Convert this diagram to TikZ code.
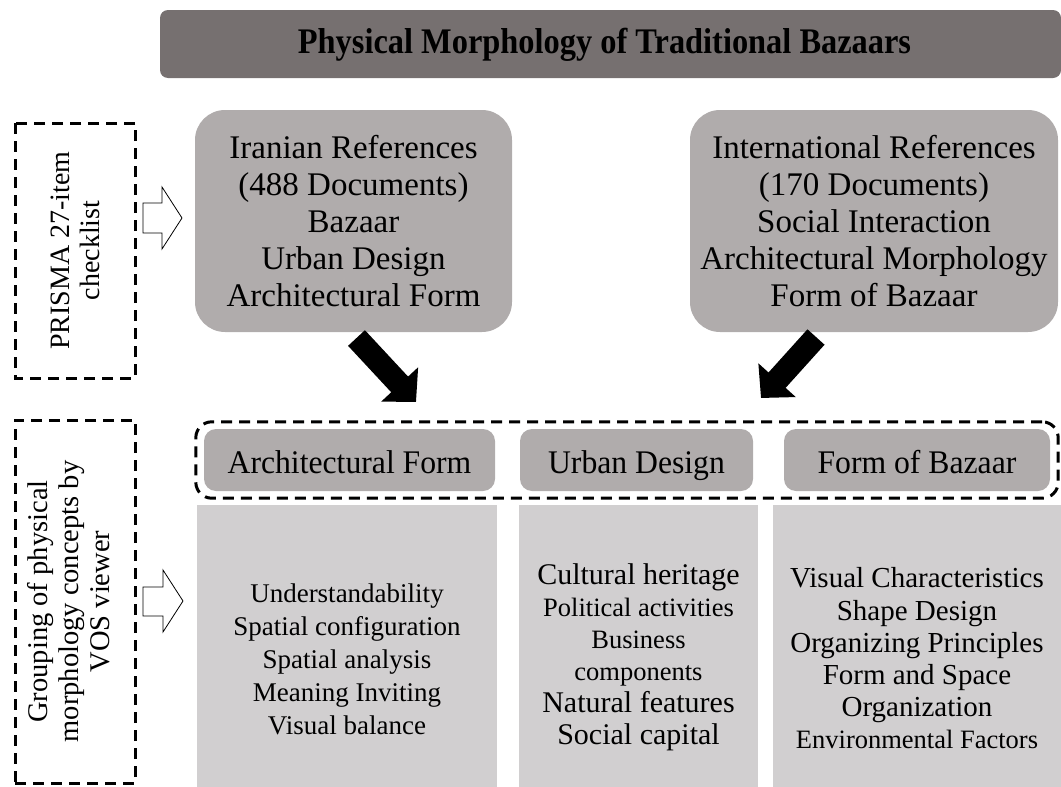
\documentclass[tikz,border=0pt]{standalone}
\usepackage{fontspec}
\setmainfont{Liberation Serif}
\newfontfamily\condfont[FakeStretch=0.96]{Liberation Serif}
\newfontfamily\titlefont[FakeStretch=0.9]{Liberation Serif}
\usetikzlibrary{arrows.meta,fit}
\definecolor{titlegray}{RGB}{118,112,112}
\definecolor{midgray}{RGB}{176,172,172}
\definecolor{listgray}{RGB}{209,207,208}
\begin{document}
\begin{tikzpicture}[x=1pt,y=-1pt,
  dashbox/.style={draw=black, line width=3pt, dash pattern=on 11pt off 7pt},
  refbox/.style={fill=midgray, rounded corners=30pt, inner sep=0pt, align=center, font=\fontsize{33}{37}\selectfont},
  headbox/.style={fill=midgray, rounded corners=12pt, inner sep=0pt, minimum height=62pt, text height=30pt, text depth=3pt, font=\condfont\fontsize{33}{36}\selectfont},
  listbox/.style={fill=listgray, inner sep=0pt, minimum height=282pt},
  listtext/.style={inner sep=0pt, align=center},
  sidetext/.style={dashbox, rotate=90, inner sep=0pt, align=center},
  hollow/.style={draw=black, line width=0.8pt, fill=white, line join=miter},
  bigarrow/.style={draw=black, line width=23pt, -{Triangle[length=24pt,width=49pt]}},
]
\useasboundingbox (0,0) rectangle (1061,787);

% title bar
\node[fill=titlegray, rounded corners=8pt, minimum width=901pt, minimum height=68pt, inner sep=0pt] (title) at (610.5,44) {};
\node[font=\titlefont\bfseries\fontsize{36}{40}\selectfont, inner sep=0pt] (titletext) at ([xshift=-6pt,yshift=-1pt]title.center) {Physical Morphology of Traditional Bazaars};

% left dashed boxes
\node[sidetext, minimum width=255pt, minimum height=120pt, font=\fontsize{28}{30}\selectfont] (prisma) at (75,250.5) {PRISMA 27-item\\checklist};
\node[dashbox, minimum width=120pt, minimum height=363pt] (vos) at (75,601.5) {};
\node[rotate=90, inner sep=0pt, align=center, font=\fontsize{28.5}{31}\selectfont] (vostext) at (69,601.5) {Grouping of physical\\morphology concepts by\\VOS viewer};

% reference boxes
\node[refbox, minimum width=317pt, minimum height=222pt] (iran) at (353.5,221) {Iranian References\\(488 Documents)\\Bazaar\\Urban Design\\Architectural Form};
\node[refbox, minimum width=368pt, minimum height=222pt] (intl) at (874,221) {International References\\(170 Documents)\\Social Interaction\\Architectural Morphology\\Form of Bazaar};

% header boxes
\node[headbox, minimum width=291pt] (h1) at (349.5,460) {Architectural Form};
\node[headbox, minimum width=233pt] (h2) at (636.5,460) {Urban Design};
\node[headbox, minimum width=266pt] (h3) at (917,460) {Form of Bazaar};
\node[dashbox, rounded corners=16pt, fit=(h1)(h3), inner xsep=8pt, inner ysep=7pt] (grp) {};

% list boxes
\node[listbox, minimum width=300pt] (l1) at (347,646) {};
\node[listbox, minimum width=239pt] (l2) at (638.5,646) {};
\node[listbox, minimum width=288pt] (l3) at (917,646) {};
\node[listtext, font=\fontsize{27}{33}\selectfont] (t1) at (347,659) {Understandability\\Spatial configuration\\Spatial analysis\\Meaning Inviting\\Visual balance};
\node[listtext, font=\fontsize{26.5}{32}\selectfont] (t2) at (638.5,657.5) {{\fontsize{30}{32}\selectfont Cultural heritage}\\
Political activities\\Business\\components\\
{\fontsize{30}{32}\selectfont Natural features}\\{\fontsize{30}{32}\selectfont Social capital}};
\node[listtext, font=\fontsize{29}{32.2}\selectfont] (t3) at (917,658.5) {Visual Characteristics\\Shape Design\\Organizing Principles\\Form and Space\\Organization\\
{\fontsize{26.5}{32.2}\selectfont Environmental Factors}};

% hollow arrows
\draw[hollow] (143,203) -- (162,203) -- (162,187) -- (182,218) -- (162,249) -- (162,233) -- (143,233) -- cycle;
\draw[hollow] (143,587) -- (163,587) -- (163,570) -- (183,601) -- (163,632) -- (163,616) -- (143,616) -- cycle;

% black arrows
\coordinate (a1s) at (356.5,338);
\coordinate (a1e) at (416,402);
\coordinate (a2s) at (816,337);
\coordinate (a2e) at (761,398);
\draw[bigarrow] (a1s) -- (a1e);
\draw[bigarrow] (a2s) -- (a2e);
\end{tikzpicture}
\end{document}
